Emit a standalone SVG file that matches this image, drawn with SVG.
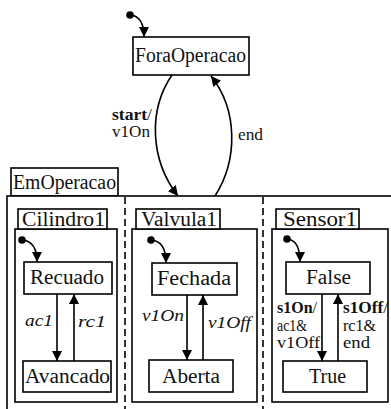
<svg xmlns="http://www.w3.org/2000/svg" width="391" height="409" viewBox="0 0 391 409" font-family="Liberation Serif, Times New Roman, serif">
  <style>
    .box { fill: #fff; stroke: #000; stroke-width: 1.6; }
    .name { font-size: 20px; fill: #111; }
    .lbl { font-size: 16px; fill: #111; }
    .it { font-style: italic; }
    .b { font-weight: bold; }
    .edge { fill: none; stroke: #000; stroke-width: 1.6; marker-end: url(#arrow); }
    .dash { stroke: #000; stroke-width: 1.6; stroke-dasharray: 7 4; }
  </style>
  <defs>
    <marker id="arrow" viewBox="0 0 10 10" refX="10" refY="5" markerWidth="10" markerHeight="10" markerUnits="userSpaceOnUse" orient="auto">
      <path d="M0,0 L10,5 L0,10 z" fill="#000"/>
    </marker>
  </defs>

  <rect width="391" height="409" fill="#fff"/>

  <!-- composite state EmOperacao -->
  <g id="EmOperacao">
    <rect class="box" x="11" y="168" width="107" height="28"/>
    <text class="name" x="13" y="189" textLength="103" lengthAdjust="spacingAndGlyphs">EmOperacao</text>
    <rect class="box" x="7" y="196" width="400" height="230"/>
    <line class="dash" x1="125" y1="197" x2="125" y2="409"/>
    <line class="dash" x1="263" y1="197" x2="263" y2="409"/>
  </g>

  <!-- region Cilindro1 -->
  <g id="Cilindro1">
    <rect class="box" x="15" y="229" width="102" height="173"/>
    <rect class="box" x="18" y="209" width="89" height="20"/>
    <text class="name" x="22" y="226" textLength="83" lengthAdjust="spacingAndGlyphs">Cilindro1</text>
  </g>
  <g id="Recuado">
    <rect class="box" x="24" y="262" width="88" height="32"/>
    <text class="name" x="30" y="284" textLength="74" lengthAdjust="spacingAndGlyphs">Recuado</text>
  </g>
  <g id="Avancado">
    <rect class="box" x="23" y="361" width="88" height="31"/>
    <text class="name" x="25" y="383" textLength="85" lengthAdjust="spacingAndGlyphs">Avancado</text>
  </g>

  <!-- region Valvula1 -->
  <g id="Valvula1">
    <rect class="box" x="132" y="229" width="125" height="173"/>
    <rect class="box" x="136" y="209" width="84" height="20"/>
    <text class="name" x="141" y="226" textLength="76" lengthAdjust="spacingAndGlyphs">Valvula1</text>
  </g>
  <g id="Fechada">
    <rect class="box" x="152" y="263" width="85" height="32"/>
    <text class="name" x="157" y="285" textLength="74" lengthAdjust="spacingAndGlyphs">Fechada</text>
  </g>
  <g id="Aberta">
    <rect class="box" x="149" y="360" width="84" height="32"/>
    <text class="name" x="162" y="383" textLength="58" lengthAdjust="spacingAndGlyphs">Aberta</text>
  </g>

  <!-- region Sensor1 -->
  <g id="Sensor1">
    <rect class="box" x="272" y="229" width="116" height="173"/>
    <rect class="box" x="276" y="209" width="83" height="20"/>
    <text class="name" x="283" y="226" textLength="74" lengthAdjust="spacingAndGlyphs">Sensor1</text>
  </g>
  <g id="False">
    <rect class="box" x="286" y="262" width="84" height="32"/>
    <text class="name" x="306" y="284" textLength="45" lengthAdjust="spacingAndGlyphs">False</text>
  </g>
  <g id="True">
    <rect class="box" x="283" y="361" width="84" height="31"/>
    <text class="name" x="309" y="383" textLength="37" lengthAdjust="spacingAndGlyphs">True</text>
  </g>

  <!-- top-level state -->
  <g id="ForaOperacao">
    <rect class="box" x="133" y="37" width="116" height="38"/>
    <text class="name" x="135" y="62" textLength="111" lengthAdjust="spacingAndGlyphs">ForaOperacao</text>
  </g>

  <!-- transitions and initial pseudostates -->
  <g id="connectors">
    <circle cx="130" cy="15" r="3.8" fill="#000"/>
    <path class="edge" d="M130,15 Q144,16 144,37"/>
    <circle cx="22" cy="240" r="3.8" fill="#000"/>
    <path class="edge" d="M22,240 Q37,241 37,262"/>
    <circle cx="151" cy="240" r="3.8" fill="#000"/>
    <path class="edge" d="M151,240 Q166,241 166,263"/>
    <circle cx="287" cy="239" r="3.8" fill="#000"/>
    <path class="edge" d="M287,239 Q300,240 300,262"/>

    <path class="edge" d="M172,75 C148,110 150,160 178,196"/>
    <path class="edge" d="M215,196 C238,160 238,110 211,76"/>

    <line class="edge" x1="57" y1="294" x2="57" y2="361"/>
    <line class="edge" x1="74" y1="361" x2="74" y2="294"/>
    <line class="edge" x1="187" y1="295" x2="187" y2="360"/>
    <line class="edge" x1="203" y1="360" x2="203" y2="295"/>
    <line class="edge" x1="322" y1="294" x2="322" y2="361"/>
    <line class="edge" x1="338" y1="361" x2="338" y2="294"/>
  </g>

  <!-- transition labels -->
  <g id="labels">
    <text class="lbl" x="112" y="120" textLength="40" lengthAdjust="spacingAndGlyphs"><tspan class="b">start</tspan>/</text>
    <text class="lbl" x="112" y="137" textLength="38" lengthAdjust="spacingAndGlyphs">v1On</text>
    <text class="lbl" x="238" y="140" textLength="25" lengthAdjust="spacingAndGlyphs">end</text>
    <text class="lbl it" x="25" y="326" textLength="28" lengthAdjust="spacingAndGlyphs">ac1</text>
    <text class="lbl it" x="78" y="327" textLength="28" lengthAdjust="spacingAndGlyphs">rc1</text>
    <text class="lbl it" x="142" y="321" textLength="42" lengthAdjust="spacingAndGlyphs">v1On</text>
    <text class="lbl it" x="208" y="328" textLength="43" lengthAdjust="spacingAndGlyphs">v1Off</text>
    <text class="lbl" x="277" y="313" textLength="40" lengthAdjust="spacingAndGlyphs"><tspan class="b">s1On</tspan>/</text>
    <text class="lbl" x="277" y="331" textLength="30" lengthAdjust="spacingAndGlyphs">ac1&amp;</text>
    <text class="lbl" x="277" y="348" textLength="43" lengthAdjust="spacingAndGlyphs">v1Off</text>
    <text class="lbl" x="343" y="313" textLength="45" lengthAdjust="spacingAndGlyphs"><tspan class="b">s1Off</tspan>/</text>
    <text class="lbl" x="343" y="331" textLength="33" lengthAdjust="spacingAndGlyphs">rc1&amp;</text>
    <text class="lbl" x="343" y="348" textLength="27" lengthAdjust="spacingAndGlyphs">end</text>
  </g>
</svg>
